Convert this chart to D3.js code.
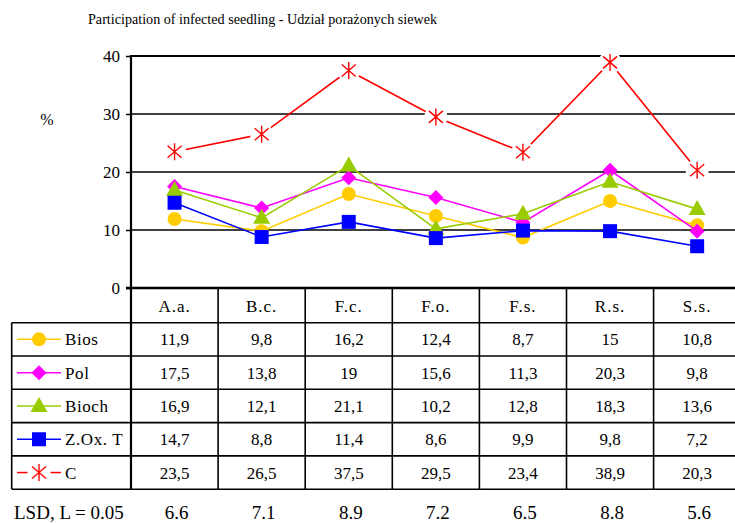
<!DOCTYPE html>
<html>
<head>
<meta charset="utf-8">
<style>
  body { margin: 0; background: #fff; }
  svg { display: block; }
</style>
</head>
<body>
<svg width="735" height="523"></svg>
<script src="https://cdn.jsdelivr.net/npm/d3@7/dist/d3.min.js"></script>
<script>
var categories = ["A.a.", "B.c.", "F.c.", "F.o.", "F.s.", "R.s.", "S.s."];
var seriesNames = ["Bios", "Pol", "Bioch", "Z.Ox. T", "C"];
var bios  = [11.9, 9.8, 16.2, 12.4, 8.7, 15, 10.8];
var pol   = [17.5, 13.8, 19, 15.6, 11.3, 20.3, 9.8];
var bioch = [16.9, 12.1, 21.1, 10.2, 12.8, 18.3, 13.6];
var zox   = [14.7, 8.8, 11.4, 8.6, 9.9, 9.8, 7.2];
var ctrl  = [23.5, 26.5, 37.5, 29.5, 23.4, 38.9, 20.3];
var lsd   = [6.6, 7.1, 8.9, 7.2, 6.5, 8.8, 5.6];
var yTicks = [0, 10, 20, 30, 40];

var series = [
  {name: "Bios", values: bios, color: "#FFCC00", marker: "circle"},
  {name: "Pol", values: pol, color: "#FF00FF", marker: "diamond"},
  {name: "Bioch", values: bioch, color: "#99CC00", marker: "triangle"},
  {name: "Z.Ox. T", values: zox, color: "#0000FF", marker: "square"},
  {name: "C", values: ctrl, color: "#FF0000", marker: "star"}
];

var FONT = "Liberation Serif";
var svg = d3.select("svg");
var left = 131, colW = 87.1;
var x = d3.scaleBand().domain(categories).range([left, left + colW * categories.length]);
var y = d3.scaleLinear().domain([0, 40]).range([288, 56]);
var right = 735;

function txt(sel, size) {
  return sel.style("font-family", FONT).style("font-size", size + "px").attr("fill", "#000");
}

// title
txt(svg.append("text"), 15)
    .attr("x", 88).attr("y", 24)
    .attr("textLength", 349).attr("lengthAdjust", "spacingAndGlyphs")
    .text("Participation of  infected seedling - Udział porażonych siewek");

txt(svg.append("text"), 16).attr("x", 47).attr("y", 125)
    .attr("text-anchor", "middle").text("%");

// gridlines
svg.append("g").selectAll("line").data(yTicks.filter(function(d){ return d > 0; }))
  .join("line")
    .attr("x1", left).attr("x2", right)
    .attr("y1", function(d){ return y(d); }).attr("y2", function(d){ return y(d); })
    .attr("stroke", "#000")
    .attr("stroke-width", function(d){ return d === 40 ? 2.2 : 1.6; });

// y axis
var yAxis = svg.append("g").attr("transform", "translate(" + left + ",0)")
    .call(d3.axisLeft(y).tickValues(yTicks).tickSize(5).tickPadding(6).tickFormat(d3.format("d")));
yAxis.select(".domain").remove();
yAxis.selectAll(".tick line").attr("stroke", "#000").attr("stroke-width", 1.5);
txt(yAxis.selectAll(".tick text"), 17);
svg.append("line").attr("x1", left).attr("x2", left).attr("y1", y(40) - 1).attr("y2", 489)
    .attr("stroke", "#000").attr("stroke-width", 2.2);
svg.append("line").attr("x1", left - 5).attr("x2", right).attr("y1", y(0)).attr("y2", y(0))
    .attr("stroke", "#000").attr("stroke-width", 2.4);

// table
var rowTop = 322.7, rowH = 33.3;
var rows = d3.scaleBand().domain(seriesNames).range([rowTop, rowTop + rowH * seriesNames.length]);
var tbl = svg.append("g");
var bounds = categories.slice(1).map(function(c){ return x(c); });
tbl.selectAll("line.v").data(bounds).join("line")
    .attr("x1", function(d){ return d; }).attr("x2", function(d){ return d; })
    .attr("y1", y(0)).attr("y2", rows.range()[1])
    .attr("stroke", "#000").attr("stroke-width", 1.6);
tbl.selectAll("line.h").data(d3.range(seriesNames.length + 1)).join("line")
    .attr("x1", 11.7).attr("x2", right)
    .attr("y1", function(i){ return rowTop + rowH * i; }).attr("y2", function(i){ return rowTop + rowH * i; })
    .attr("stroke", "#000").attr("stroke-width", 1.6);
tbl.append("line").attr("x1", 11.7).attr("x2", 11.7).attr("y1", rowTop).attr("y2", rows.range()[1])
    .attr("stroke", "#000").attr("stroke-width", 1.6);

txt(tbl.selectAll("text.cat").data(categories).join("text"), 17)
    .attr("x", function(d){ return x(d) + x.bandwidth() / 2; })
    .attr("y", 306).attr("dy", "0.35em").attr("text-anchor", "middle")
    .style("letter-spacing", "1px")
    .text(function(d){ return d; });

var fmt = function(v){ return String(v).replace(".", ","); };
series.forEach(function(s){
  var cy = rows(s.name) + rows.bandwidth() / 2;
  txt(tbl.append("g").selectAll("text").data(s.values).join("text"), 17)
      .attr("x", function(d, i){ return x(categories[i]) + x.bandwidth() / 2; })
      .attr("y", cy).attr("dy", "0.35em").attr("text-anchor", "middle")
      .text(fmt);
  // legend key
  var lg = tbl.append("g");
  if (s.marker === "star") {
    lg.append("line").attr("x1", 17).attr("x2", 30).attr("y1", cy).attr("y2", cy).attr("stroke", s.color).attr("stroke-width", 1.5);
    lg.append("line").attr("x1", 48).attr("x2", 61).attr("y1", cy).attr("y2", cy).attr("stroke", s.color).attr("stroke-width", 1.5);
  } else {
    lg.append("line").attr("x1", 17).attr("x2", 61).attr("y1", cy).attr("y2", cy).attr("stroke", s.color).attr("stroke-width", 1.5);
  }
  drawMarker(lg, s, 39, cy);
  txt(tbl.append("text"), 17).attr("x", 65).attr("y", cy).attr("dy", "0.35em")
      .style("letter-spacing", "0.6px").text(s.name);
});

txt(svg.append("text"), 19).attr("x", 14).attr("y", 512).attr("dy", "0.35em")
    .text("LSD, L = 0.05");
txt(svg.append("g").selectAll("text").data(lsd).join("text"), 19)
    .attr("x", function(d, i){ return x(categories[i]) + x.bandwidth() / 2 + 2; })
    .attr("y", 512).attr("dy", "0.35em").attr("text-anchor", "middle")
    .text(function(d){ return d3.format(".1f")(d); });

// series
function drawMarker(g, s, cx, cy) {
  var m = g.append("g").attr("transform", "translate(" + cx + "," + cy + ")");
  if (s.marker === "circle") {
    m.append("circle").attr("r", 7).attr("fill", s.color);
  } else if (s.marker === "diamond") {
    m.append("path").attr("d", "M0,-7.5L7.5,0L0,7.5L-7.5,0Z").attr("fill", s.color);
  } else if (s.marker === "triangle") {
    m.append("path").attr("d", "M0,-9L8.5,6L-8.5,6Z").attr("fill", s.color);
  } else if (s.marker === "square") {
    m.append("rect").attr("x", -7).attr("y", -7).attr("width", 14).attr("height", 14).attr("fill", s.color);
  } else {
    m.append("circle").attr("r", 11.5).attr("fill", "#fff");
    m.append("path").attr("d", "M0,-8.5V8.5M-7,-6L7,6M-7,6L7,-6")
        .attr("stroke", s.color).attr("stroke-width", 1.4).attr("fill", "none");
  }
}

var line = d3.line()
    .x(function(d, i){ return x(categories[i]) + x.bandwidth() / 2; })
    .y(function(d){ return y(d); });
series.forEach(function(s){
  var g = svg.append("g");
  g.append("path").datum(s.values).attr("d", line)
      .attr("fill", "none").attr("stroke", s.color).attr("stroke-width", 1.6);
  s.values.forEach(function(v, i){
    drawMarker(g, s, x(categories[i]) + x.bandwidth() / 2, y(v));
  });
});
</script>
</body>
</html>
